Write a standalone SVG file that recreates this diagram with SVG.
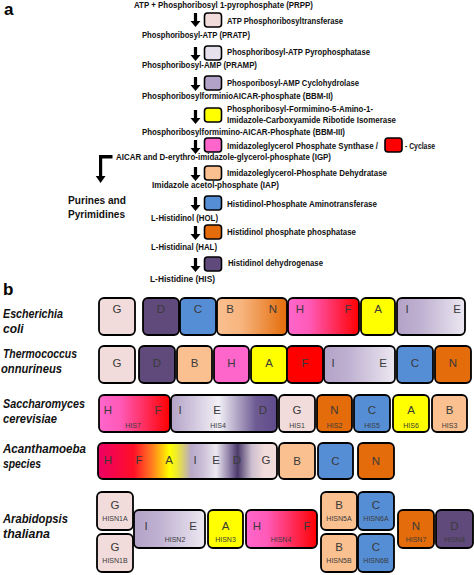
<svg xmlns="http://www.w3.org/2000/svg" width="474" height="575" viewBox="0 0 474 575">
<style>
.t{font-family:"Liberation Sans",Arial,sans-serif;font-weight:bold;font-size:8.8px;fill:#111}
.big{font-family:"Liberation Sans",Arial,sans-serif;font-weight:bold;font-size:17px;fill:#000}
.sp{font-family:"Liberation Sans",Arial,sans-serif;font-weight:bold;font-style:italic;font-size:12px;fill:#111}
.pur{font-family:"Liberation Sans",Arial,sans-serif;font-weight:bold;font-size:11px;fill:#111}
.sb{stroke:#000;stroke-width:1.6}
.bx{stroke:#000;stroke-width:1.8}
.L{font-family:"Liberation Sans",Arial,sans-serif;font-size:11.5px;fill:#3a3a3a;text-anchor:middle}
.S{font-family:"Liberation Sans",Arial,sans-serif;font-size:7px;fill:#3a3a3a;text-anchor:middle}
</style>
<defs>
<linearGradient id="gBN" x1="0" x2="1" y1="0" y2="0"><stop offset="0" stop-color="#FAC090"/><stop offset="0.35" stop-color="#F7B47E"/><stop offset="1" stop-color="#E46C0A"/></linearGradient>
<linearGradient id="gHF" x1="0" x2="1" y1="0" y2="0"><stop offset="0" stop-color="#FF66CC"/><stop offset="0.3" stop-color="#FF5AB8"/><stop offset="1" stop-color="#FF0000"/></linearGradient>
<linearGradient id="gIE" x1="0" x2="1" y1="0" y2="0"><stop offset="0" stop-color="#B3A2C7"/><stop offset="0.35" stop-color="#BFB1D1"/><stop offset="1" stop-color="#ECE8F1"/></linearGradient>
<linearGradient id="gIED" x1="0" x2="1" y1="0" y2="0"><stop offset="0" stop-color="#B3A2C7"/><stop offset="0.45" stop-color="#F2F0F6"/><stop offset="0.8" stop-color="#6E5B93"/><stop offset="1" stop-color="#5F4B8B"/></linearGradient>
<linearGradient id="gAc" x1="0" x2="1" y1="0" y2="0">
<stop offset="0" stop-color="#EC0064"/><stop offset="0.2" stop-color="#FF1028"/><stop offset="0.3" stop-color="#FF7A20"/><stop offset="0.4" stop-color="#FFFF00"/><stop offset="0.44" stop-color="#EEEA30"/><stop offset="0.52" stop-color="#B8A8C8"/><stop offset="0.58" stop-color="#C8BCD6"/><stop offset="0.66" stop-color="#ECE8F0"/><stop offset="0.73" stop-color="#9484AC"/><stop offset="0.78" stop-color="#4B3A6B"/><stop offset="0.86" stop-color="#CDBFCF"/><stop offset="0.93" stop-color="#F2DCDB"/><stop offset="1" stop-color="#F2DCDB"/>
</linearGradient>
<path id="arr" d="M-1.6,0 H1.6 V8 H5 L0,14 L-5,8 H-1.6 Z" fill="#000"/>
</defs>

<text class="big" x="4" y="15">a</text>
<text class="big" x="3" y="295">b</text>

<g id="pathway-texts">
<text class="t" x="134" y="8" textLength="179" lengthAdjust="spacingAndGlyphs">ATP + Phosphoribosyl  1-pyrophosphate (PRPP)</text>
<text class="t" x="142" y="38" textLength="108" lengthAdjust="spacingAndGlyphs">Phosphoribosyl-ATP  (PRATP)</text>
<text class="t" x="142" y="68" textLength="115" lengthAdjust="spacingAndGlyphs">Phosphoribosyl-AMP  (PRAMP)</text>
<text class="t" x="142" y="99" textLength="191" lengthAdjust="spacingAndGlyphs">PhosphoribosylforminioAICAR-phosphate  (BBM-II)</text>
<text class="t" x="142" y="135" textLength="203" lengthAdjust="spacingAndGlyphs">Phosphoribosylformimino-AICAR-Phosphate  (BBM-III)</text>
<text class="t" x="116" y="160" textLength="215" lengthAdjust="spacingAndGlyphs">AICAR and D-erythro-imidazole-glycerol-phosphate  (IGP)</text>
<text class="t" x="152" y="188" textLength="127" lengthAdjust="spacingAndGlyphs">Imidazole acetol-phosphate (IAP)</text>
<text class="t" x="151" y="221" textLength="67" lengthAdjust="spacingAndGlyphs">L-Histidinol (HOL)</text>
<text class="t" x="151" y="250" textLength="66" lengthAdjust="spacingAndGlyphs">L-Histidinal (HAL)</text>
<text class="t" x="150" y="282" textLength="65" lengthAdjust="spacingAndGlyphs">L-Histidine (HIS)</text>
<text class="pur" x="68" y="204" textLength="58" lengthAdjust="spacingAndGlyphs">Purines and</text>
<text class="pur" x="68" y="218" textLength="57" lengthAdjust="spacingAndGlyphs">Pyrimidines</text>
</g>

<g id="connectors">
<use href="#arr" x="195.5" y="13"/>
<use href="#arr" x="195.5" y="47"/>
<use href="#arr" x="195.5" y="77"/>
<use href="#arr" x="195.5" y="110"/>
<use href="#arr" x="195.5" y="140"/>
<use href="#arr" x="195.5" y="167"/>
<use href="#arr" x="195.5" y="197"/>
<use href="#arr" x="195.5" y="226"/>
<use href="#arr" x="195.5" y="258"/>
<path d="M99,155 H112.5 V158.5 H102.2 V176 H105.5 L100.6,183 L95.7,176 H99 Z" fill="#000"/>
</g>

<g id="enzymes">
<g id="e1"><rect class="sb" x="204.5" y="13" width="17" height="14" rx="3" fill="#F2DCDB"/><text class="t" x="227" y="24" textLength="116" lengthAdjust="spacingAndGlyphs">ATP  Phosphoribosyltransferase</text></g>
<g id="e2"><rect class="sb" x="204.5" y="46" width="17" height="14" rx="3" fill="#E6E0EC"/><text class="t" x="227" y="55" textLength="143" lengthAdjust="spacingAndGlyphs">Phosphoribosyl-ATP  Pyrophosphatase</text></g>
<g id="e3"><rect class="sb" x="204.5" y="76" width="17" height="14" rx="3" fill="#B3A2C7"/><text class="t" x="227" y="86" textLength="132" lengthAdjust="spacingAndGlyphs">Phosporibosyl-AMP  Cyclohydrolase</text></g>
<g id="e4"><rect class="sb" x="204.5" y="108" width="17" height="14" rx="3" fill="#FFFF00"/><text class="t" x="227" y="112" textLength="146" lengthAdjust="spacingAndGlyphs">Phosphoribosyl-Formimino-5-Amino-1-</text><text class="t" x="227" y="123" textLength="169" lengthAdjust="spacingAndGlyphs">Imidazole-Carboxyamide  Ribotide Isomerase</text></g>
<g id="e5"><rect class="sb" x="204.5" y="138" width="17" height="14" rx="3" fill="#FF66CC"/><text class="t" x="227" y="149" textLength="151" lengthAdjust="spacingAndGlyphs">Imidazoleglycerol  Phosphate Synthase  /</text><rect class="sb" x="385" y="138" width="17" height="14" rx="3" fill="#FF0000"/><text class="t" x="405" y="149" textLength="30" lengthAdjust="spacingAndGlyphs">- Cyclase</text></g>
<g id="e6"><rect class="sb" x="204.5" y="166" width="17" height="14" rx="3" fill="#FAC090"/><text class="t" x="227" y="176" textLength="160" lengthAdjust="spacingAndGlyphs">Imidazoleglycerol-Phosphate  Dehydratase</text></g>
<g id="e7"><rect class="sb" x="204.5" y="196" width="17" height="14" rx="3" fill="#558ED5"/><text class="t" x="227" y="207" textLength="150" lengthAdjust="spacingAndGlyphs">Histidinol-Phosphate  Aminotransferase</text></g>
<g id="e8"><rect class="sb" x="204.5" y="225" width="17" height="14" rx="3" fill="#E46C0A"/><text class="t" x="227" y="235" textLength="129" lengthAdjust="spacingAndGlyphs">Histidinol phosphate phosphatase</text></g>
<g id="e9"><rect class="sb" x="204.5" y="257" width="17" height="14" rx="3" fill="#604A7B"/><text class="t" x="228" y="266" textLength="95" lengthAdjust="spacingAndGlyphs">Histidinol dehydrogenase</text></g>
</g>

<g id="species-labels">
<text class="sp" x="3" y="318" textLength="60" lengthAdjust="spacingAndGlyphs">Escherichia</text>
<text class="sp" x="3" y="333">coli</text>
<text class="sp" x="3" y="358" textLength="74" lengthAdjust="spacingAndGlyphs">Thermococcus</text>
<text class="sp" x="1" y="373" textLength="61" lengthAdjust="spacingAndGlyphs">onnurineus</text>
<text class="sp" x="3" y="408" textLength="82" lengthAdjust="spacingAndGlyphs">Saccharomyces</text>
<text class="sp" x="3" y="423" textLength="54" lengthAdjust="spacingAndGlyphs">cerevisiae</text>
<text class="sp" x="3" y="453" textLength="83" lengthAdjust="spacingAndGlyphs">Acanthamoeba</text>
<text class="sp" x="3" y="468" textLength="38" lengthAdjust="spacingAndGlyphs">species</text>
<text class="sp" x="3" y="523" textLength="65" lengthAdjust="spacingAndGlyphs">Arabidopsis</text>
<text class="sp" x="3" y="538" textLength="47" lengthAdjust="spacingAndGlyphs">thaliana</text>
</g>

<g id="ecoli">
<rect class="bx" x="99" y="298" width="36" height="37" rx="5" fill="#F2DCDB"/><text class="L" x="117" y="313">G</text>
<rect class="bx" x="143" y="298" width="36" height="37" rx="5" fill="#604A7B"/><text class="L" x="161" y="313" fill="#2a1f40">D</text>
<rect class="bx" x="180" y="298" width="36" height="37" rx="5" fill="#558ED5"/><text class="L" x="198" y="313">C</text>
<rect class="bx" x="217" y="298" width="70" height="37" rx="5" fill="url(#gBN)"/><text class="L" x="230" y="313">B</text><text class="L" x="273" y="313">N</text>
<rect class="bx" x="288" y="298" width="71" height="37" rx="5" fill="url(#gHF)"/><text class="L" x="300" y="313">H</text><text class="L" x="348" y="313">F</text>
<rect class="bx" x="361" y="298" width="34" height="37" rx="5" fill="#FFFF00"/><text class="L" x="378" y="313">A</text>
<rect class="bx" x="397" y="298" width="68" height="37" rx="5" fill="url(#gIE)"/><text class="L" x="407" y="313">I</text><text class="L" x="457" y="313">E</text>
</g>

<g id="thermococcus">
<rect class="bx" x="99" y="346" width="36" height="37" rx="5" fill="#F2DCDB"/><text class="L" x="117" y="367">G</text>
<rect class="bx" x="139" y="346" width="36" height="37" rx="5" fill="#604A7B"/><text class="L" x="157" y="367" fill="#2a1f40">D</text>
<rect class="bx" x="177" y="346" width="35" height="37" rx="5" fill="#FAC090"/><text class="L" x="194.5" y="367">B</text>
<rect class="bx" x="214" y="346" width="35" height="37" rx="5" fill="#FF66CC"/><text class="L" x="231.5" y="367">H</text>
<rect class="bx" x="251" y="346" width="36" height="37" rx="5" fill="#FFFF00"/><text class="L" x="269" y="367">A</text>
<rect class="bx" x="287" y="346" width="36" height="37" rx="5" fill="#FF0000"/><text class="L" x="305" y="367" fill="#b00000">F</text>
<rect class="bx" x="324" y="346" width="71" height="37" rx="5" fill="url(#gIE)"/><text class="L" x="333" y="367">I</text><text class="L" x="383" y="367">E</text>
<rect class="bx" x="397" y="346" width="36" height="37" rx="5" fill="#558ED5"/><text class="L" x="415" y="367">C</text>
<rect class="bx" x="435" y="346" width="36" height="37" rx="5" fill="#E46C0A"/><text class="L" x="453" y="367">N</text>
</g>

<g id="saccharomyces">
<rect class="bx" x="99" y="395" width="71" height="37" rx="5" fill="url(#gHF)"/><text class="L" x="108" y="414">H</text><text class="L" x="158" y="414">F</text><text class="S" x="133" y="428">HIS7</text>
<rect class="bx" x="171" y="395" width="106" height="37" rx="5" fill="url(#gIED)"/><text class="L" x="180" y="414">I</text><text class="L" x="217" y="414">E</text><text class="L" x="263" y="414">D</text><text class="S" x="218" y="428">HIS4</text>
<rect class="bx" x="279" y="395" width="36" height="37" rx="5" fill="#F2DCDB"/><text class="L" x="297" y="414">G</text><text class="S" x="297" y="428">HIS1</text>
<rect class="bx" x="317" y="395" width="35" height="37" rx="5" fill="#E46C0A"/><text class="L" x="334.5" y="414">N</text><text class="S" x="334.5" y="428">HIS2</text>
<rect class="bx" x="354" y="395" width="36" height="37" rx="5" fill="#558ED5"/><text class="L" x="372" y="414">C</text><text class="S" x="372" y="428">HIS5</text>
<rect class="bx" x="393" y="395" width="36" height="37" rx="5" fill="#FFFF00"/><text class="L" x="411" y="414">A</text><text class="S" x="411" y="428">HIS6</text>
<rect class="bx" x="432" y="395" width="35" height="37" rx="5" fill="#FAC090"/><text class="L" x="449.5" y="414">B</text><text class="S" x="449.5" y="428">HIS3</text>
</g>

<g id="acanthamoeba">
<rect class="bx" x="98" y="443" width="179" height="36" rx="5" fill="url(#gAc)"/>
<text class="L" x="108" y="464" fill="#5a0020">H</text><text class="L" x="139" y="464" fill="#5a0010">F</text><text class="L" x="169" y="464">A</text><text class="L" x="195" y="464">I</text><text class="L" x="216" y="464">E</text><text class="L" x="237" y="464">D</text><text class="L" x="266" y="464">G</text>
<rect class="bx" x="279" y="443" width="36" height="36" rx="5" fill="#FAC090"/><text class="L" x="297" y="465">B</text>
<rect class="bx" x="318" y="443" width="35" height="36" rx="5" fill="#558ED5"/><text class="L" x="335.5" y="465">C</text>
<rect class="bx" x="358" y="443" width="36" height="36" rx="5" fill="#E46C0A"/><text class="L" x="376" y="465">N</text>
</g>

<g id="arabidopsis">
<rect class="bx" x="97" y="492" width="36" height="38" rx="5" fill="#F2DCDB"/><text class="L" x="115" y="509">G</text><text class="S" x="115" y="521">HISN1A</text>
<rect class="bx" x="97" y="534" width="36" height="38" rx="5" fill="#F2DCDB"/><text class="L" x="115" y="551">G</text><text class="S" x="115" y="563">HISN1B</text>
<rect class="bx" x="134" y="510" width="71" height="38" rx="5" fill="url(#gIE)"/><text class="L" x="146" y="530">I</text><text class="L" x="193" y="530">E</text><text class="S" x="175" y="542">HISN2</text>
<rect class="bx" x="208" y="510" width="35" height="38" rx="5" fill="#FFFF00"/><text class="L" x="225.5" y="530">A</text><text class="S" x="225.5" y="542">HISN3</text>
<rect class="bx" x="246" y="510" width="71" height="38" rx="5" fill="url(#gHF)"/><text class="L" x="257" y="530">H</text><text class="L" x="307" y="530">F</text><text class="S" x="281" y="542">HISN4</text>
<rect class="bx" x="321" y="492" width="36" height="38" rx="5" fill="#FAC090"/><text class="L" x="339" y="509">B</text><text class="S" x="339" y="521">HISN5A</text>
<rect class="bx" x="358" y="492" width="36" height="38" rx="5" fill="#558ED5"/><text class="L" x="376" y="509">C</text><text class="S" x="376" y="521">HISN6A</text>
<rect class="bx" x="321" y="534" width="36" height="38" rx="5" fill="#FAC090"/><text class="L" x="339" y="551">B</text><text class="S" x="339" y="563">HISN5B</text>
<rect class="bx" x="358" y="534" width="36" height="38" rx="5" fill="#558ED5"/><text class="L" x="376" y="551">C</text><text class="S" x="376" y="563">HISN6B</text>
<rect class="bx" x="398" y="510" width="36" height="38" rx="5" fill="#E46C0A"/><text class="L" x="416" y="530">N</text><text class="S" x="416" y="542">HISN7</text>
<rect class="bx" x="436" y="510" width="37" height="38" rx="5" fill="#604A7B"/><text class="L" x="454.5" y="530" fill="#2a1f40">D</text><text class="S" x="454.5" y="542" fill="#2a1f40">HISN8</text>
</g>
</svg>
